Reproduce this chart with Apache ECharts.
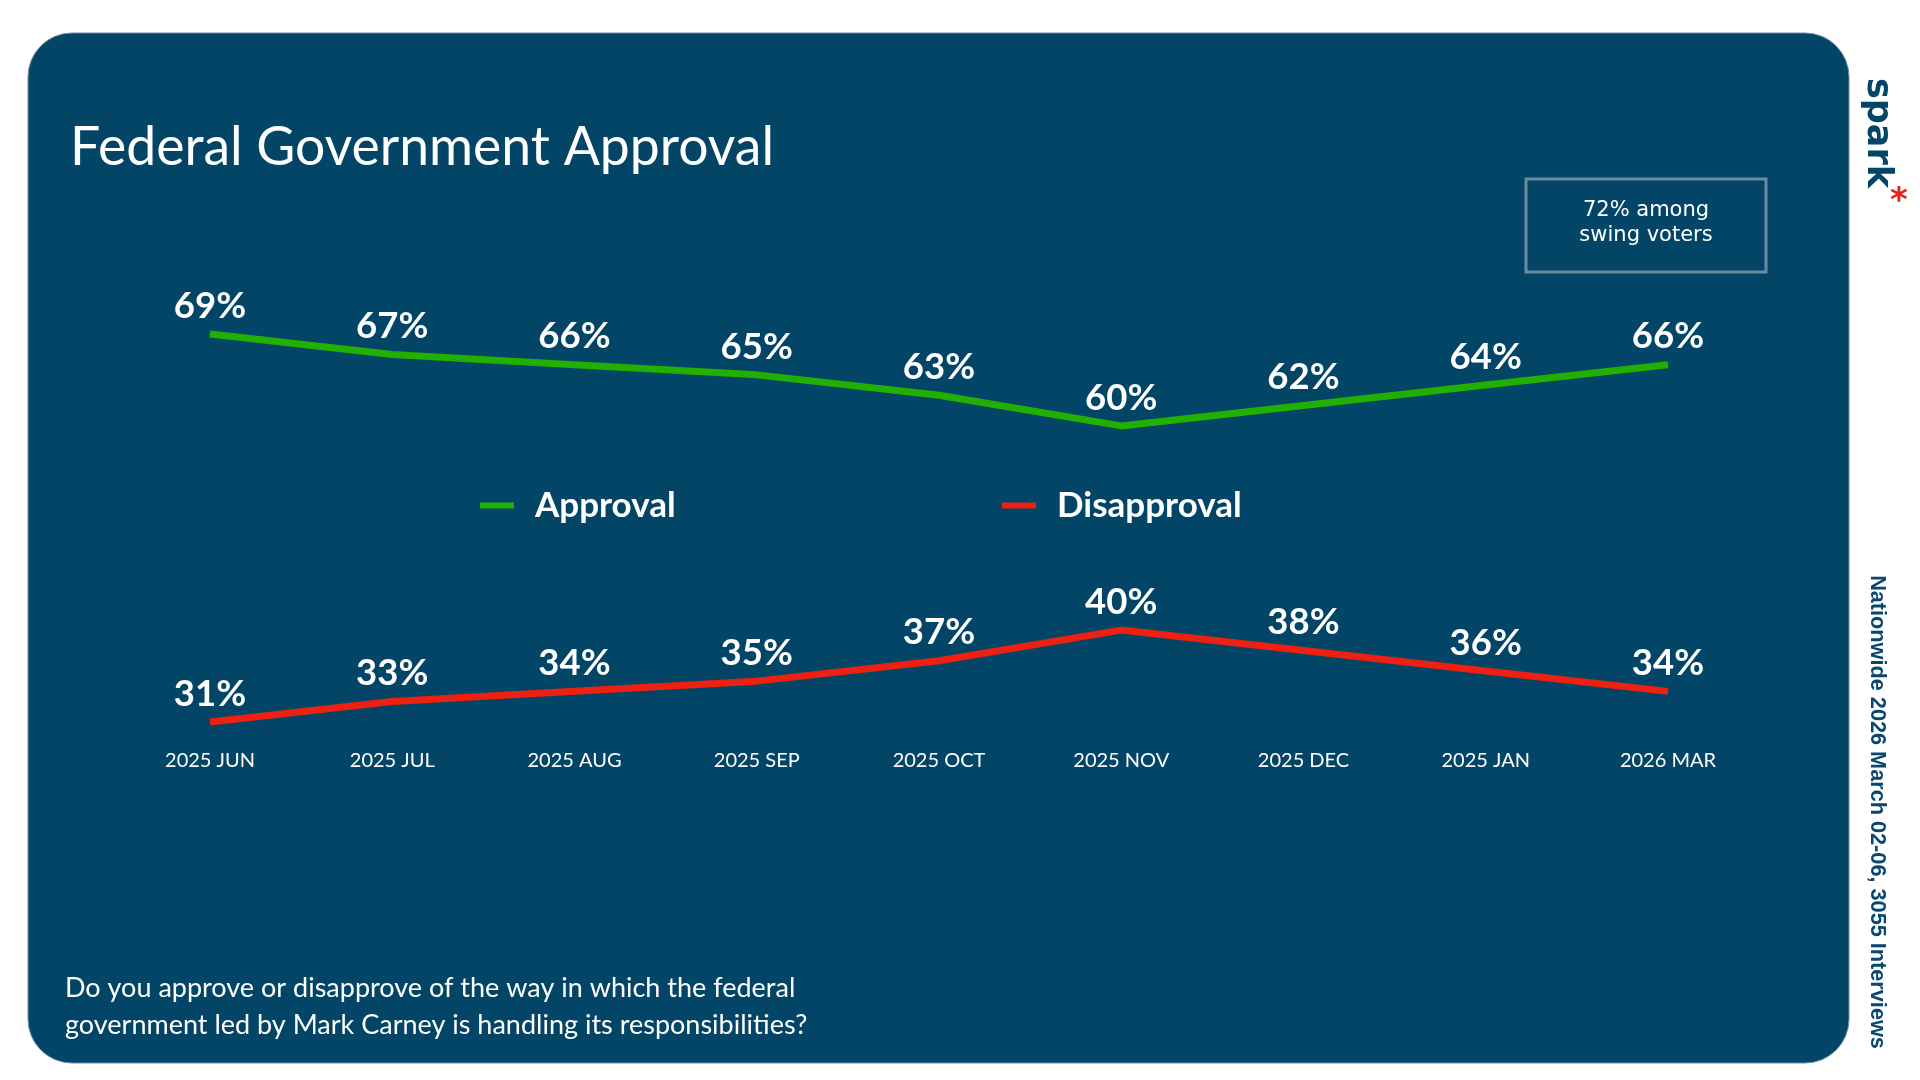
<!DOCTYPE html>
<html>
<head>
<meta charset="utf-8">
<style>
html,body{margin:0;padding:0;background:#ffffff;}
#chart{width:1920px;height:1080px;}
</style>
<script src="https://cdn.jsdelivr.net/npm/echarts@6.0.0/dist/echarts.min.js"></script>
</head>
<body>
<div id="chart"></div>
<script>
const categories = ['2025 JUN','2025 JUL','2025 AUG','2025 SEP','2025 OCT','2025 NOV','2025 DEC','2025 JAN','2026 MAR'];
const approval = [69,67,66,65,63,60,62,64,66];
const disapproval = [31,33,34,35,37,40,38,36,34];
const titleText = 'Federal Government Approval';
const questionText = 'Do you approve or disapprove of the way in which the federal\ngovernment led by Mark Carney is handling its responsibilities?';
const noteText = '72% among\nswing voters';
const sourceText = 'Nationwide 2026 March 02-06, 3055 Interviews';
const logoText = 'spark';

const PANEL = '#034567';
const GREEN = '#22b000';
const RED = '#ec2111';

const chart = echarts.init(document.getElementById('chart'));

const labelCfg = {
  show: true,
  position: 'top',
  distance: 9,
  formatter: '{c}%',
  color: '#ffffff',
  fontFamily: 'Lato',
  fontWeight: 'bold',
  fontSize: 36.5
};

const legendBase = {
  top: 483,
  icon: 'rect',
  itemWidth: 34,
  itemHeight: 6,
  selectedMode: false,
  textStyle: {color:'#ffffff', fontFamily:'Lato', fontWeight:'bold', fontSize:35, padding:[0,0,0,16]}
};

chart.setOption({
  backgroundColor: '#ffffff',
  animation: false,
  title: {
    text: titleText,
    left: 65,
    top: 116,
    textStyle: {color:'#ffffff', fontFamily:'Lato', fontWeight:'normal', fontSize:53.5}
  },
  legend: [
    Object.assign({}, legendBase, {left: 475, data: ['Approval']}),
    Object.assign({}, legendBase, {left: 997, data: ['Disapproval']})
  ],
  grid: {left: 210, right: 252, top: 303.4, bottom: 337.6, containLabel: false},
  xAxis: {
    type: 'category',
    data: categories,
    boundaryGap: false,
    axisLine: {show:false},
    axisTick: {show:false},
    splitLine: {show:false},
    axisLabel: {color:'#ffffff', fontFamily:'Lato', fontSize:20, margin:8}
  },
  yAxis: {
    type: 'value',
    min: 29,
    max: 72,
    show: false,
    splitLine: {show:false}
  },
  series: [
    {
      name: 'Approval',
      type: 'line',
      data: approval,
      symbol: 'circle',
      symbolSize: 1,
      itemStyle: {color: GREEN},
      lineStyle: {color: GREEN, width: 7},
      label: labelCfg,
      z: 3
    },
    {
      name: 'Disapproval',
      type: 'line',
      data: disapproval,
      symbol: 'circle',
      symbolSize: 1,
      itemStyle: {color: RED},
      lineStyle: {color: RED, width: 7},
      label: labelCfg,
      z: 3
    }
  ],
  graphic: [
    {
      type: 'rect',
      z: -10,
      shape: {x: 28, y: 33, width: 1821, height: 1030, r: 44},
      style: {fill: PANEL, stroke: '#6d8da3', lineWidth: 1}
    },
    {
      type: 'rect',
      shape: {x: 1526, y: 179, width: 240, height: 93},
      style: {fill: 'none', stroke: '#6b8ba1', lineWidth: 3}
    },
    {
      type: 'text',
      x: 1646, y: 223,
      style: {text: noteText, fill:'#ffffff', font:'21px "DejaVu Sans"', lineHeight: 25, align:'center', verticalAlign:'middle'}
    },
    {
      type: 'text',
      x: 65, y: 1007,
      style: {text: questionText, fill:'#ffffff', font:'27px Lato', lineHeight: 37, align:'left', verticalAlign:'middle'}
    },
    {
      type: 'text',
      x: 1877, y: 133,
      rotation: -Math.PI/2,
      style: {text: logoText, fill: '#034567', font:'bold 35px "DejaVu Sans"', align:'center', verticalAlign:'middle'}
    },
    {
      type: 'text',
      x: 1899, y: 202,
      style: {text: '*', fill: '#e52219', font:'bold 34px "DejaVu Sans"', align:'center', verticalAlign:'middle'}
    },
    {
      type: 'text',
      x: 1877, y: 812,
      rotation: -Math.PI/2,
      style: {text: sourceText, fill: '#0a4770', font:'bold 21.7px "Liberation Sans"', align:'center', verticalAlign:'middle'}
    }
  ]
});
</script>
</body>
</html>
